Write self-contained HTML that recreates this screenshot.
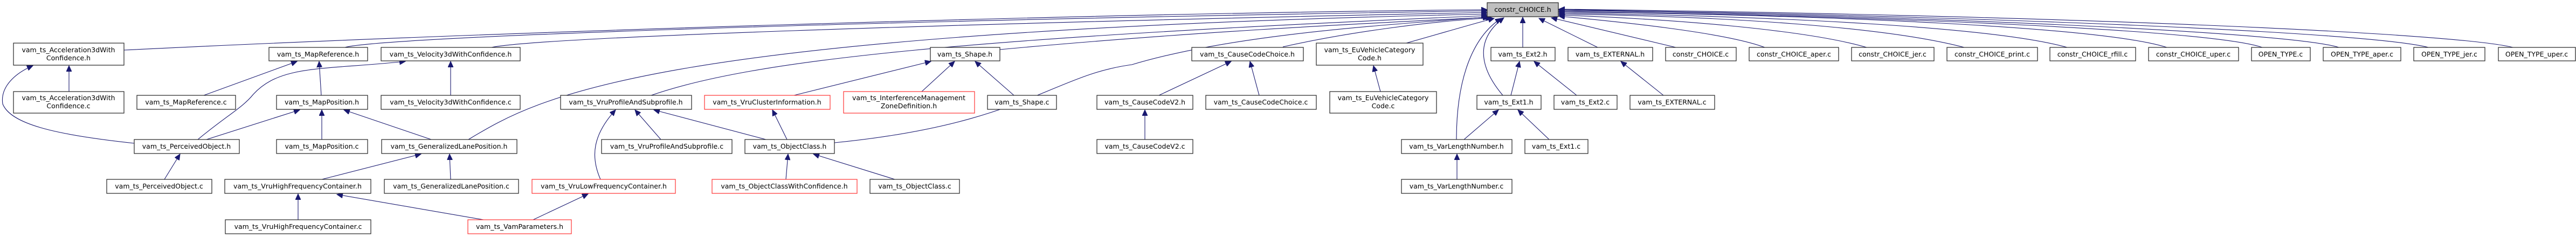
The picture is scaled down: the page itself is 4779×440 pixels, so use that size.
<!DOCTYPE html>
<html><head><meta charset="utf-8"><style>
html,body{margin:0;padding:0;background:#fff;}
svg{display:block;}
text{font-family:"DejaVu Sans","Liberation Sans",sans-serif;font-size:12.5px;fill:#000;text-anchor:middle;}
.b{fill:#fff;stroke:#222;stroke-width:1.2;}
.r{fill:#fff;stroke:#f33;stroke-width:1.2;}
.e{fill:none;stroke:#191970;stroke-width:1.1;marker-end:url(#a);}
</style></head><body>
<svg width="4779" height="440" viewBox="0 0 4779 440" xmlns="http://www.w3.org/2000/svg">
<defs><marker id="a" markerUnits="userSpaceOnUse" markerWidth="12" markerHeight="10" refX="11" refY="5" orient="auto"><path d="M0,0 L11,5 L0,10 z" fill="#191970" stroke="#191970"/></marker></defs>

<!-- edges to constr_CHOICE.h -->
<path class="e" d="M230,93 C900,60 2000,25 2759,18"/>
<path class="e" d="M640,88 C700,70 1500,40 2759,20"/>
<path class="e" d="M912,88 C1000,70 1700,45 2759,23"/>
<path class="e" d="M869,259 C1000,180 1200,60 2759,26"/>
<path class="e" d="M1208,177 C1400,110 1800,70 2759,29"/>
<path class="e" d="M1548,265 C1900,230 1950,140 2100,120 C2300,60 2600,45 2765,31"/>
<path class="e" d="M1855,92 C2200,60 2500,45 2762,32"/>
<path class="e" d="M2380,87 C2500,60 2650,40 2768,33"/>
<path class="e" d="M2609,80 C2680,60 2730,45 2772,34"/>
<path class="e" d="M2788,177 C2740,120 2740,70 2790,33"/>
<path class="e" d="M2702,259 C2702,150 2730,70 2785,34"/>
<path class="e" d="M2825,88 L2825,32"/>
<path class="e" d="M2964,88 L2855,34"/>
<path class="e" d="M3109,88 L2878,33"/>
<path class="e" d="M3274,88 C3200,60 3000,40 2892,30"/>
<path class="e" d="M3463,88 C3350,55 3100,35 2892,28"/>
<path class="e" d="M3644,88 C3500,50 3200,30 2892,26"/>
<path class="e" d="M3835,88 C3700,50 3300,30 2892,24"/>
<path class="e" d="M4020,88 C3900,50 3400,28 2892,22"/>
<path class="e" d="M4197,88 C4100,55 3500,30 2892,21"/>
<path class="e" d="M4339,88 C4250,60 3600,30 2892,19"/>
<path class="e" d="M4505,88 C4400,60 3700,30 2892,18"/>
<path class="e" d="M4662,88 C4550,60 3800,28 2892,17"/>

<!-- other edges -->
<path class="e" d="M128,170 L128,122"/>
<path class="e" d="M249,266 C100,250 20,230 5,193 C0,160 30,135 61,122"/>
<path class="e" d="M383,259 L556,204"/>
<path class="e" d="M367,259 C420,215 450,200 470,175 C520,120 600,130 752,114"/>
<path class="e" d="M378,177 L551,114"/>
<path class="e" d="M596,177 L592,114"/>
<path class="e" d="M597,259 L597,204"/>
<path class="e" d="M800,259 L638,204"/>
<path class="e" d="M836,177 L836,114"/>
<path class="e" d="M836,333 L834,286"/>
<path class="e" d="M305,333 L334,286"/>
<path class="e" d="M597,333 L781,286"/>
<path class="e" d="M553,408 L553,360"/>
<path class="e" d="M897,408 L625,361"/>
<path class="e" d="M989,408 L1091,360"/>
<path class="e" d="M1114,333 C1095,290 1100,250 1142,204"/>
<path class="e" d="M1226,259 L1178,204"/>
<path class="e" d="M1421,259 L1213,204"/>
<path class="e" d="M1460,259 L1433,204"/>
<path class="e" d="M1458,333 L1462,286"/>
<path class="e" d="M1660,333 L1509,286"/>
<path class="e" d="M1473,177 L1727,114"/>
<path class="e" d="M1710,170 L1771,114"/>
<path class="e" d="M1881,177 L1809,114"/>
<path class="e" d="M2150,177 L2284,114"/>
<path class="e" d="M2336,177 L2319,114"/>
<path class="e" d="M2124,259 L2124,204"/>
<path class="e" d="M2561,170 L2548,122"/>
<path class="e" d="M2803,177 L2819,114"/>
<path class="e" d="M2925,177 L2846,114"/>
<path class="e" d="M3086,177 L3007,114"/>
<path class="e" d="M2716,259 L2780,204"/>
<path class="e" d="M2874,259 L2816,204"/>
<path class="e" d="M2703,333 L2703,286"/>

<!-- nodes -->
<rect class="b" x="25" y="80" width="205" height="41"/><text x="127" y="97">vam_ts_Acceleration3dWith</text><text x="127" y="112">Confidence.h</text>
<rect class="b" x="25" y="170" width="205" height="40"/><text x="127" y="186">vam_ts_Acceleration3dWith</text><text x="127" y="201">Confidence.c</text>
<rect class="b" x="499" y="88" width="183" height="25"/><text x="590" y="105">vam_ts_MapReference.h</text>
<rect class="b" x="254" y="177" width="183" height="26"/><text x="345" y="194">vam_ts_MapReference.c</text>
<rect class="b" x="513" y="177" width="169" height="26"/><text x="597" y="194">vam_ts_MapPosition.h</text>
<rect class="b" x="249" y="259" width="195" height="26"/><text x="346" y="276">vam_ts_PerceivedObject.h</text>
<rect class="b" x="513" y="259" width="169" height="26"/><text x="597" y="276">vam_ts_MapPosition.c</text>
<rect class="b" x="198" y="333" width="195" height="26"/><text x="295" y="350">vam_ts_PerceivedObject.c</text>
<rect class="b" x="417" y="333" width="271" height="26"/><text x="552" y="350">vam_ts_VruHighFrequencyContainer.h</text>
<rect class="b" x="418" y="408" width="270" height="26"/><text x="553" y="425">vam_ts_VruHighFrequencyContainer.c</text>
<rect class="b" x="707" y="88" width="258" height="25"/><text x="836" y="105">vam_ts_Velocity3dWithConfidence.h</text>
<rect class="b" x="707" y="177" width="258" height="26"/><text x="836" y="194">vam_ts_Velocity3dWithConfidence.c</text>
<rect class="b" x="708" y="259" width="251" height="26"/><text x="833" y="276">vam_ts_GeneralizedLanePosition.h</text>
<rect class="b" x="713" y="333" width="249" height="26"/><text x="837" y="350">vam_ts_GeneralizedLanePosition.c</text>
<rect class="r" x="868" y="408" width="192" height="26"/><text x="964" y="425">vam_ts_VamParameters.h</text>
<rect class="b" x="1040" y="177" width="243" height="26"/><text x="1161" y="194">vam_ts_VruProfileAndSubprofile.h</text>
<rect class="r" x="1307" y="177" width="233" height="26"/><text x="1423" y="194">vam_ts_VruClusterInformation.h</text>
<rect class="r" x="1565" y="170" width="243" height="40"/><text x="1686" y="186">vam_ts_InterferenceManagement</text><text x="1686" y="201">ZoneDefinition.h</text>
<rect class="b" x="1116" y="259" width="242" height="26"/><text x="1237" y="276">vam_ts_VruProfileAndSubprofile.c</text>
<rect class="b" x="1382" y="259" width="166" height="26"/><text x="1465" y="276">vam_ts_ObjectClass.h</text>
<rect class="r" x="987" y="333" width="266" height="26"/><text x="1120" y="350">vam_ts_VruLowFrequencyContainer.h</text>
<rect class="r" x="1321" y="333" width="269" height="26"/><text x="1455" y="350">vam_ts_ObjectClassWithConfidence.h</text>
<rect class="b" x="1726" y="88" width="129" height="25"/><text x="1790" y="105">vam_ts_Shape.h</text>
<rect class="b" x="1832" y="177" width="128" height="26"/><text x="1896" y="194">vam_ts_Shape.c</text>
<rect class="b" x="1614" y="333" width="166" height="26"/><text x="1697" y="350">vam_ts_ObjectClass.c</text>
<rect class="b" x="2211" y="88" width="207" height="25"/><text x="2314" y="105">vam_ts_CauseCodeChoice.h</text>
<rect class="b" x="2035" y="177" width="178" height="26"/><text x="2124" y="194">vam_ts_CauseCodeV2.h</text>
<rect class="b" x="2035" y="259" width="178" height="26"/><text x="2124" y="276">vam_ts_CauseCodeV2.c</text>
<rect class="b" x="2237" y="177" width="205" height="26"/><text x="2339" y="194">vam_ts_CauseCodeChoice.c</text>
<rect class="b" x="2442" y="80" width="198" height="41"/><text x="2541" y="97">vam_ts_EuVehicleCategory</text><text x="2541" y="112">Code.h</text>
<rect class="b" x="2467" y="170" width="198" height="40"/><text x="2566" y="186">vam_ts_EuVehicleCategory</text><text x="2566" y="201">Code.c</text>
<rect x="2759" y="5" width="132" height="26" fill="#bfbfbf" stroke="#222" stroke-width="1.2"/><text x="2825" y="22">constr_CHOICE.h</text>
<rect class="b" x="2766" y="88" width="119" height="25"/><text x="2825" y="105">vam_ts_Ext2.h</text>
<rect class="b" x="2909" y="88" width="157" height="25"/><text x="2987" y="105">vam_ts_EXTERNAL.h</text>
<rect class="b" x="3090" y="88" width="131" height="25"/><text x="3155" y="105">constr_CHOICE.c</text>
<rect class="b" x="2740" y="177" width="119" height="26"/><text x="2799" y="194">vam_ts_Ext1.h</text>
<rect class="b" x="2883" y="177" width="117" height="26"/><text x="2941" y="194">vam_ts_Ext2.c</text>
<rect class="b" x="3024" y="177" width="157" height="26"/><text x="3102" y="194">vam_ts_EXTERNAL.c</text>
<rect class="b" x="2600" y="259" width="205" height="26"/><text x="2702" y="276">vam_ts_VarLengthNumber.h</text>
<rect class="b" x="2829" y="259" width="117" height="26"/><text x="2887" y="276">vam_ts_Ext1.c</text>
<rect class="b" x="2600" y="333" width="205" height="26"/><text x="2702" y="350">vam_ts_VarLengthNumber.c</text>
<rect class="b" x="3245" y="88" width="166" height="25"/><text x="3328" y="105">constr_CHOICE_aper.c</text>
<rect class="b" x="3435" y="88" width="153" height="25"/><text x="3511" y="105">constr_CHOICE_jer.c</text>
<rect class="b" x="3612" y="88" width="168" height="25"/><text x="3696" y="105">constr_CHOICE_print.c</text>
<rect class="b" x="3803" y="88" width="159" height="25"/><text x="3882" y="105">constr_CHOICE_rfill.c</text>
<rect class="b" x="3986" y="88" width="167" height="25"/><text x="4069" y="105">constr_CHOICE_uper.c</text>
<rect class="b" x="4177" y="88" width="109" height="25"/><text x="4231" y="105">OPEN_TYPE.c</text>
<rect class="b" x="4310" y="88" width="144" height="25"/><text x="4382" y="105">OPEN_TYPE_aper.c</text>
<rect class="b" x="4478" y="88" width="132" height="25"/><text x="4544" y="105">OPEN_TYPE_jer.c</text>
<rect class="b" x="4635" y="88" width="143" height="25"/><text x="4706" y="105">OPEN_TYPE_uper.c</text>
</svg>
</body></html>
